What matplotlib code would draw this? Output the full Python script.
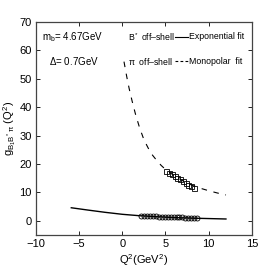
import matplotlib
matplotlib.use("Agg")
import matplotlib.pyplot as plt

plt.rcParams['font.family'] = ['Liberation Sans', 'DejaVu Sans']
plt.rcParams['mathtext.fontset'] = 'custom'
plt.rcParams['mathtext.rm'] = 'Liberation Sans'
plt.rcParams['mathtext.it'] = 'Liberation Sans'

# B* off-shell: exponential fit curve
exp_q2 = [-5.9, -4.0, -2.0, 0.0, 2.0, 4.0, 6.0, 8.0, 10.0, 12.0]
exp_g = [4.6, 3.8, 3.0, 2.3, 1.8, 1.45, 1.15, 0.95, 0.8, 0.65]

# B* off-shell: QCDSR points (circles)
circ_q2 = [2.2, 2.54, 2.88, 3.22, 3.56, 3.9, 4.24, 4.58, 4.92, 5.26,
           5.6, 5.94, 6.28, 6.62, 6.96, 7.3, 7.64, 7.98, 8.32, 8.66]
circ_g = [1.75, 1.72, 1.68, 1.64, 1.6, 1.56, 1.52, 1.48, 1.44, 1.4,
          1.36, 1.32, 1.28, 1.24, 1.2, 1.16, 1.12, 1.08, 1.04, 1.0]

# pi off-shell: monopolar fit curve
mono_q2 = [0.2, 0.5, 0.8, 1.15, 1.55, 2.0, 2.5, 3.0, 3.5, 4.0, 4.5, 5.0,
           6.0, 7.0, 8.0, 9.0, 10.0, 11.0, 12.0]
mono_g = [56.0, 51.0, 46.5, 42.0, 37.3, 32.8, 28.6, 25.6, 23.1, 21.2, 19.5, 18.1,
          15.9, 14.1, 12.6, 11.5, 10.6, 9.8, 9.1]

# pi off-shell: QCDSR points (squares)
sq_q2 = [5.1, 5.42, 5.74, 6.06, 6.38, 6.7, 7.02, 7.34, 7.66, 7.98, 8.3]
sq_g = [17.6, 17.0, 16.4, 15.8, 15.2, 14.6, 14.0, 13.3, 12.7, 12.1, 11.4]

fig = plt.figure(figsize=(2.78, 2.73), dpi=100)
ax = fig.add_axes([0.129, 0.139, 0.777, 0.781])

ax.plot(exp_q2, exp_g, color='black', lw=1.0)
ax.plot(circ_q2, circ_g, 'o', mfc='none', mec='black', ms=3.6, mew=0.6)
ax.plot(mono_q2, mono_g, color='black', lw=0.8, ls=(0, (5, 6)))
ax.plot(sq_q2, sq_g, 's', mfc='none', mec='black', ms=3.6, mew=0.6)

ax.set_xlim(-10, 15)
ax.set_ylim(-5, 70)
ax.set_xticks([-10, -5, 0, 5, 10, 15])
ax.set_yticks([0, 10, 20, 30, 40, 50, 60, 70])
ax.tick_params(direction='in', top=True, right=True, length=3, width=0.6,
               labelsize=8, pad=3)
for s in ax.spines.values():
    s.set_linewidth(0.9)
    s.set_color('#444444')

ax.set_xlabel(r'Q$^2$(GeV$^2$)', fontsize=8, labelpad=2)
ax.set_ylabel(r'g$_{\mathrm{B_1 B^* \pi}}$ (Q$^2$)', fontsize=8, labelpad=1)

ax.text(0.03, 0.93, r'm$_\mathrm{b}$= 4.67GeV', transform=ax.transAxes, fontsize=7, va='center')
ax.text(0.06, 0.815, r'$\Delta$= 0.7GeV', transform=ax.transAxes, fontsize=7, va='center')

# legend-like rows: label, line sample, fit name
ax.text(0.425, 0.93, r'B$^*$ off–shell', transform=ax.transAxes, fontsize=6.3, va='center')
ax.text(0.425, 0.815, r'$\pi$  off–shell', transform=ax.transAxes, fontsize=6.3, va='center')
ax.plot([0.645, 0.705], [0.93, 0.93], transform=ax.transAxes, color='black', lw=0.8)
ax.plot([0.645, 0.705], [0.815, 0.815], transform=ax.transAxes, color='black', lw=0.8,
        ls=(0, (2.5, 2)))
ax.text(0.71, 0.93, 'Exponential fit', transform=ax.transAxes, fontsize=6.3, va='center')
ax.text(0.71, 0.815, 'Monopolar  fit', transform=ax.transAxes, fontsize=6.3, va='center')

fig.savefig('out.png', dpi=100)
